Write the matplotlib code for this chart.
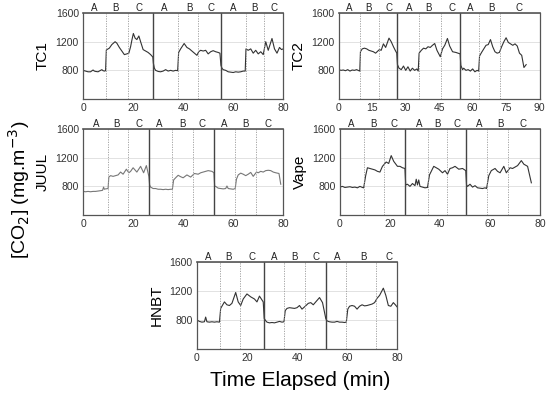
import matplotlib
matplotlib.use("Agg")
import matplotlib.pyplot as plt
import matplotlib.transforms as mtransforms

plt.rcParams['font.family'] = ['Liberation Sans', 'DejaVu Sans']

# ---- data (time in min, CO2 in mg/m3) ----
tc1_t = [0, 1, 2, 3, 4, 4.5, 5, 6, 7, 7.5, 8, 8.6, 9.0,
         9.3, 10.5, 11.5, 12.8, 13.5, 14.5, 15.5, 16.5, 17.5, 18.3, 19, 19.5, 20.1, 20.8, 21.5, 22.3, 23, 24, 25, 26, 27, 27.9,
         28.1, 28.5, 29, 30, 31, 32, 33, 34, 35, 36, 37, 37.8,
         38.2, 39, 40.4, 41.5, 42.5, 43.5, 44.5, 45.5, 46.2, 47, 48, 49, 50, 51, 52, 53, 54, 54.7,
         55.1, 55.5, 56, 57, 58, 59, 60, 61, 62, 63, 64, 64.8,
         65.1, 66, 67, 68, 69, 70, 71, 72, 73, 74, 75.5, 76.5, 77.5, 78.5, 79.3, 80]
tc1_v = [800, 790, 780, 780, 805, 790, 785, 780, 800, 810, 795, 790, 795,
         1085, 1110, 1160, 1200, 1180, 1120, 1070, 1020, 1030, 1040, 1130, 1220, 1315, 1250, 1230, 1280, 1200, 1090, 1070, 1050, 1020, 985,
         900, 830, 800, 785, 780, 790, 810, 790, 800, 790, 800, 795,
         1050, 1100, 1175, 1120, 1100, 1070, 1040, 1010, 1060, 1080, 1070, 1080, 1030, 1060, 1075, 1060, 1050, 1040,
         870, 830, 810, 800, 780, 775, 770, 780, 775, 780, 790, 790,
         1100, 1080, 1100, 1040, 1080, 1030, 1060, 1020, 1200, 1080, 1245, 1100, 1040, 1120, 1090, 1100]

tc2_t = [0, 1, 2, 3, 4, 5, 6, 7, 8, 9, 9.4,
         9.7, 10.5, 11.5, 12.5, 13.5, 14.5, 15.5, 16.5, 17.5, 18.2, 19, 20, 21, 22.5, 23.5, 24.5, 25.3, 26,
         26.3, 27, 28, 29, 30, 31, 32, 33, 34, 35, 35.6,
         36, 37, 38, 39, 40, 41, 42, 43, 44, 45.5, 46.5, 47.5, 48.7, 49.7, 51, 52.5, 54.4,
         54.7, 55.5, 56, 57, 58, 59, 60, 61, 62, 62.7,
         63.1, 64, 65, 66, 67, 68, 69, 70, 71, 72, 73, 74, 75, 76, 77, 78, 79, 80, 81, 82, 83, 84]
tc2_v = [810, 800, 805, 795, 810, 790, 805, 800, 810, 795, 790,
         1060, 1100, 1110, 1100, 1080, 1070, 1060, 1040, 1070, 1090, 1080, 1170, 1120, 1250, 1200, 1130, 1080, 1040,
         880, 830, 810, 860, 800, 850, 790, 830, 800, 820, 790,
         1040, 1080, 1110, 1100, 1130, 1120, 1150, 1175, 1080, 990, 1100, 1150, 1245, 1140, 1060, 1050, 1030,
         870, 810, 830, 800, 810, 790, 820, 780, 800, 790,
         1000, 1050, 1100, 1150, 1160, 1230, 1130, 1060, 1040, 1050, 1130, 1200, 1255, 1190, 1170, 1150, 1170, 1140, 1040, 1010, 840, 880]

juul_t = [0, 1, 2, 3, 4, 5, 6, 7, 7.8, 8.2, 8.5, 9, 10,
          10.3, 11, 12, 13, 14, 15, 16, 17.3, 18.3, 19, 20, 21.5, 23, 24.2, 25.3, 26.3,
          26.6, 27, 28, 29, 30, 31, 32, 33, 34, 35, 35.7,
          36.2, 37, 38, 39, 40, 41.5, 43, 44.5, 46, 47, 48, 49, 50, 51.5, 52.3, 52.6,
          53, 54, 55, 56, 57, 57.5, 58, 59, 60, 60.8,
          61.3, 62, 63, 64, 65, 66, 67, 68, 69.3, 70, 71, 72, 73, 74, 75, 76, 77, 78.3, 79]
juul_v = [730, 725, 730, 725, 730, 730, 735, 740, 745, 790, 760, 765, 770,
          930, 950, 940, 950, 960, 1000, 970, 1040, 990, 1010, 1060, 1000, 1080, 990, 1090, 940,
          820, 790, 770, 770, 760, 760, 755, 760, 755, 760, 760,
          890, 920, 955, 935, 920, 960, 930, 980, 970, 990, 1000, 1010, 1020, 1010, 990, 800,
          800, 775, 770, 765, 770, 805, 770, 765, 760, 770,
          900, 960, 985, 970, 950, 970, 995, 940, 1000, 990, 1010, 1000, 1020, 1025, 1020, 1000, 990, 980, 830]

vape_t = [0, 1, 2, 3, 4, 5, 6, 7, 8, 9, 9.5,
          10.3, 11, 12, 13, 14, 15, 16, 17, 18.5, 19.5, 20.5, 21.5, 23, 24, 25, 26,
          26.3, 27, 28, 29, 30, 30.5, 31, 31.5, 32, 33, 34, 35,
          35.8, 37.5, 38.5, 39.5, 41, 42, 43, 44, 45, 46, 47.5, 49, 50.3,
          50.6, 51, 52, 53, 54, 55, 56, 57, 58, 58.6,
          59.5, 60.5, 62, 63, 64, 65.5, 66.5, 68, 69, 70, 71, 72.5, 73.5, 75, 76.5]
vape_v = [790, 800, 785, 790, 795, 785, 790, 780, 800, 785, 780,
          950, 1060, 1050, 1040, 1030, 1010, 1000, 1080, 1140, 1120, 1230, 1150, 1080, 1080, 1060, 1050,
          820, 830, 800, 840, 810, 900, 820, 890, 800, 790, 780, 785,
          960, 1080, 1060, 1040, 990, 1020, 970, 1050, 1060, 1080, 1040, 1050, 1020,
          820, 800, 830, 790, 810, 780, 775, 770, 780, 770,
          950, 1020, 1050, 1010, 990, 1080, 990, 1060, 1050, 1070, 1090, 1160, 1110, 1080, 850]

hnbt_t = [0, 1, 2, 3, 3.5, 4, 5, 6, 7, 8, 9,
          9.5, 10.5, 11, 12, 13, 14, 15.5, 16.5, 17.5, 18.5, 20, 21.5, 23, 24, 25, 26.5,
          26.9, 27.5, 28, 29, 30, 31, 32, 33, 34, 34.8,
          35.3, 36, 37, 38, 39, 40, 41, 42, 43.3, 44.5, 45.5, 46.5, 47.5, 49, 50.2, 51.5,
          51.9, 52.5, 53, 54, 55, 56, 57, 58, 59, 59.7,
          60.3, 61, 62, 63, 64, 65, 66, 67, 68, 69, 70, 71, 72, 73, 74.5, 75.5, 76.5, 77.5, 78.5, 79.3, 80]
hnbt_v = [800, 780, 770, 775, 840, 775, 770, 775, 770, 775, 770,
          960, 1020, 1050, 1010, 1000, 1030, 1180, 1050, 1000, 1090, 1160, 1120, 1090, 1050, 1130, 1050,
          820, 790, 770, 760, 765, 760, 770, 780, 770, 775,
          930, 960, 970, 965, 960, 970, 1000, 950, 990, 1030, 1040, 1010, 1050, 1110, 1040, 820,
          790, 780, 775, 770, 770, 780, 770, 770, 765, 770,
          950, 990, 1000, 990, 950, 990, 1010, 995, 1000, 1010, 1020, 1040, 1100, 1140, 1240, 1140, 1000, 990, 1040, 1010, 980]

# run boundaries (solid), phase boundaries (dotted), A/B/C label positions
tc1_runs = [28, 55]
tc1_phases = [9, 18, 38, 46, 65, 72.5]
tc1_labels = [4.4, 13, 22.5, 32.5, 42.5, 51, 60, 68.4, 76.5]

tc2_runs = [26.1, 54.5]
tc2_phases = [9.4, 18, 35.8, 46, 62.8, 72.4]
tc2_labels = [4.6, 13.1, 22.4, 31.8, 40.4, 50.7, 59.1, 68.4, 80.7]

juul_runs = [26.4, 52.5]
juul_phases = [10.1, 18.1, 35.7, 43.9, 60.8, 69.1]
juul_labels = [5.1, 13.2, 22.4, 30.4, 39.9, 47.7, 56.4, 64.8, 74.1]

vape_runs = [26, 50.4]
vape_phases = [9.6, 17.7, 35.3, 42.7, 58.7, 67.1]
vape_labels = [4.7, 13.3, 21.7, 31.7, 39.1, 46.7, 55.6, 64.3, 73.3]

hnbt_runs = [26.7, 51.7]
hnbt_phases = [9.1, 17.1, 34.8, 43.1, 59.7, 71.5]
hnbt_labels = [4.4, 12.8, 22, 30.8, 39.1, 47.5, 56, 66.7, 76.7]

phase_names = ['A', 'B', 'C'] * 3

panels = [
    ('TC1', tc1_t, tc1_v, tc1_runs, tc1_phases, tc1_labels, 80, [0, 20, 40, 60, 80], [0.151, 0.750, 0.364, 0.217], '#333333'),
    ('TC2', tc2_t, tc2_v, tc2_runs, tc2_phases, tc2_labels, 90, [0, 15, 30, 45, 60, 75, 90], [0.616, 0.750, 0.365, 0.217], '#333333'),
    ('JUUL', juul_t, juul_v, juul_runs, juul_phases, juul_labels, 80, [0, 20, 40, 60, 80], [0.151, 0.457, 0.364, 0.217], '#777777'),
    ('Vape', vape_t, vape_v, vape_runs, vape_phases, vape_labels, 80, [0, 20, 40, 60, 80], [0.618, 0.457, 0.364, 0.217], '#333333'),
    ('HNBT', hnbt_t, hnbt_v, hnbt_runs, hnbt_phases, hnbt_labels, 80, [0, 20, 40, 60, 80], [0.358, 0.119, 0.364, 0.219], '#333333'),
]

fig = plt.figure(figsize=(5.5, 3.96), dpi=100)

for name, t, v, runs, phases, labels, xmax, xticks, pos, col in panels:
    ax = fig.add_axes(pos)
    ax.plot(t, v, color=col, lw=0.8)
    ax.set_xlim(0, xmax)
    ax.set_ylim(400, 1600)
    ax.set_xticks(xticks)
    ax.set_yticks([800, 1200, 1600])
    ax.grid(axis='y', color='#dddddd', lw=0.6)
    ax.set_axisbelow(True)
    for r in runs:
        ax.axvline(r, color='#444444', lw=1.0)
    for p in phases:
        ax.axvline(p, color='#999999', lw=0.6, ls=(0, (1.5, 1.5)))
    trans = mtransforms.blended_transform_factory(ax.transData, ax.transAxes)
    for x, s in zip(labels, phase_names):
        ax.text(x, 1.0, s, transform=trans, ha='center', va='bottom', fontsize=7, color='#222222')
    for sp in ax.spines.values():
        sp.set_color('#555555')
        sp.set_linewidth(0.9)
    ax.spines['top'].set_linewidth(1.2)
    ax.tick_params(length=0, labelsize=7.5, colors='#333333', pad=3)
    ax.set_ylabel(name, fontsize=11, labelpad=4)

fig.text(0.035, 0.52, '[CO$_2$] (mg.m$^{-3}$)', rotation=90, ha='center', va='center', fontsize=14)
fig.text(0.545, 0.04, 'Time Elapsed (min)', ha='center', va='center', fontsize=15)

fig.savefig('out.png', dpi=100)
